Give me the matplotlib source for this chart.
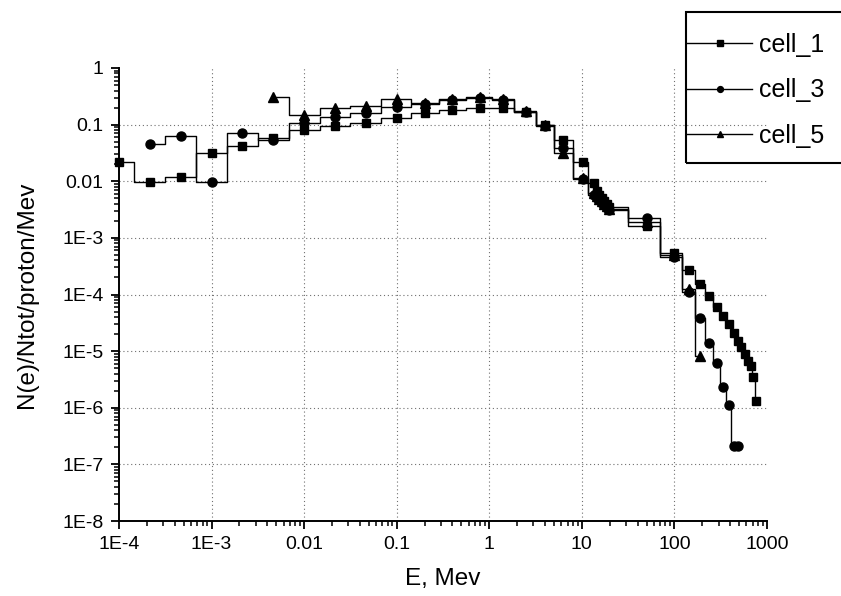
import numpy as np
import matplotlib
matplotlib.use('Agg')
import matplotlib.pyplot as plt
from matplotlib.lines import Line2D
from matplotlib.patches import Rectangle
from matplotlib.ticker import LogLocator, NullFormatter

plt.rcParams['font.family'] = ['Liberation Sans', 'DejaVu Sans']

# energy bins (MeV) and spectra
e_cell1 = [1e-4, 2.15e-4, 4.64e-4, 1e-3, 2.15e-3, 4.64e-3, 0.01, 0.0215, 0.0464, 0.1,
           0.2, 0.4, 0.8, 1.4, 2.5, 4.0, 6.3, 10.2,
           13.5, 14.5, 15.5, 16.5, 17.5, 18.5, 19.5, 50, 100,
           144, 190, 237, 289, 336, 384, 435, 484, 530, 580, 631, 673, 714, 762]
n_cell1 = [0.0216, 0.0098, 0.0117, 0.031, 0.042, 0.0587, 0.079, 0.0945, 0.108, 0.129,
           0.158, 0.181, 0.200, 0.194, 0.165, 0.097, 0.0535, 0.0216,
           0.0094, 0.0066, 0.0058, 0.0051, 0.0045, 0.0040, 0.0035, 0.0016, 5.3e-4,
           2.7e-4, 1.53e-4, 9.4e-5, 6.1e-5, 4.2e-5, 2.96e-5, 2.06e-5, 1.5e-5, 1.19e-5,
           8.9e-6, 6.7e-6, 5.4e-6, 3.5e-6, 1.3e-6]

e_cell3 = [2.15e-4, 4.64e-4, 1e-3, 2.15e-3, 4.64e-3, 0.01, 0.0215, 0.0464, 0.1,
           0.2, 0.4, 0.8, 1.4, 2.5, 4.0, 6.3, 10.2,
           13.5, 14.5, 15.5, 16.5, 17.5, 18.5, 19.5, 50, 100,
           144, 190, 237, 289, 336, 384, 435, 484]
n_cell3 = [0.0449, 0.062, 0.0096, 0.072, 0.0535, 0.105, 0.135, 0.162, 0.202,
           0.232, 0.27, 0.29, 0.27, 0.17, 0.096, 0.038, 0.011,
           0.0058, 0.0051, 0.0046, 0.0042, 0.0038, 0.0034, 0.0031, 0.0022, 4.6e-4,
           1.1e-4, 3.8e-5, 1.37e-5, 6.2e-6, 2.3e-6, 1.1e-6, 2.1e-7, 2.1e-7]

e_cell5 = [4.64e-3, 0.01, 0.0215, 0.0464, 0.1,
           0.2, 0.4, 0.8, 1.4, 2.5, 4.0, 6.3, 10.2,
           13.5, 14.5, 15.5, 16.5, 17.5, 18.5, 19.5, 50, 100,
           144, 190]
n_cell5 = [0.303, 0.148, 0.194, 0.213, 0.283,
           0.245, 0.285, 0.305, 0.285, 0.175, 0.097, 0.031, 0.0115,
           0.0062, 0.0054, 0.0048, 0.0044, 0.0040, 0.0036, 0.0032, 0.0019, 5.0e-4,
           1.24e-4, 8.2e-6]

xticks = [1e-4, 1e-3, 1e-2, 1e-1, 1, 10, 100, 1000]
xticklabels = ['1E-4', '1E-3', '0.01', '0.1', '1', '10', '100', '1000']
yticks = [1e-8, 1e-7, 1e-6, 1e-5, 1e-4, 1e-3, 1e-2, 1e-1, 1]
yticklabels = ['1E-8', '1E-7', '1E-6', '1E-5', '1E-4', '1E-3', '0.01', '0.1', '1']


def step_xy(e, n):
    # histogram-like steps, edges at geometric midpoints (log axis)
    e = np.asarray(e, dtype=float)
    n = np.asarray(n, dtype=float)
    mid = np.sqrt(e[:-1] * e[1:])
    xs = np.concatenate([[e[0]], np.repeat(mid, 2), [e[-1]]])
    ys = np.repeat(n, 2)
    return xs, ys


fig = plt.figure(figsize=(8.41, 5.96), dpi=100)
ax = fig.add_axes([119 / 841, 1 - 521 / 596, 648 / 841, 453 / 596])

series = [(e_cell1, n_cell1, 's', 6.0, 'cell_1'),
          (e_cell3, n_cell3, 'o', 6.5, 'cell_3'),
          (e_cell5, n_cell5, '^', 7.0, 'cell_5')]

handles = []
for e, n, mk, ms, lab in series:
    xs, ys = step_xy(e, n)
    ax.plot(xs, ys, color='black', lw=1.0, zorder=3)
    ax.plot(e, n, ls='none', marker=mk, ms=ms, color='black', clip_on=False, zorder=4)
    handles.append(Line2D([], [], color='black', lw=1.0, marker=mk, ms=ms * 0.65))

ax.set_xscale('log')
ax.set_yscale('log')
ax.set_xlim(1e-4, 1000)
ax.set_ylim(1e-8, 1)

ax.set_xticks(xticks, xticklabels)
ax.set_yticks(yticks, yticklabels)
ax.xaxis.set_minor_locator(LogLocator(base=10, subs=np.arange(2, 10), numticks=100))
ax.yaxis.set_minor_locator(LogLocator(base=10, subs=np.arange(2, 10), numticks=100))
ax.xaxis.set_minor_formatter(NullFormatter())
ax.yaxis.set_minor_formatter(NullFormatter())

ax.tick_params(which='major', direction='out', length=6, width=1.3, labelsize=14, pad=5)
ax.tick_params(which='minor', direction='out', length=3.5, width=1.1)

for s in ['top', 'right']:
    ax.spines[s].set_visible(False)
for s in ['left', 'bottom']:
    ax.spines[s].set_linewidth(1.4)

# dotted grid at inner decades only
for x in xticks[1:-1]:
    ax.axvline(x, color='#707070', lw=0.8, ls=(0, (1, 2.5)), zorder=1)
for y in yticks[1:-1]:
    ax.axhline(y, color='#707070', lw=0.8, ls=(0, (1, 2.5)), zorder=1)

ax.set_xlabel('E, Mev', fontsize=17.5)
ax.set_ylabel('N(e)/Ntot/proton/Mev', fontsize=17.5)
ax.xaxis.set_label_coords(0.5, -0.104)
ax.yaxis.set_label_coords(-0.125, 0.5)

# legend box running off the right edge
fig.add_artist(Rectangle((686 / 841, 1 - 163 / 596), 200 / 841, 151 / 596,
                         transform=fig.transFigure, fill=False, lw=1.5, ec='black'))
fig.legend(handles, [s[4] for s in series], loc='upper left',
           bbox_to_anchor=(687 / 841, 1 - 33 / 596), frameon=False,
           borderaxespad=0, borderpad=0, handlelength=2.6, handletextpad=0.28,
           labelspacing=0.86, fontsize=18)

fig.savefig('out.png', dpi=100)
